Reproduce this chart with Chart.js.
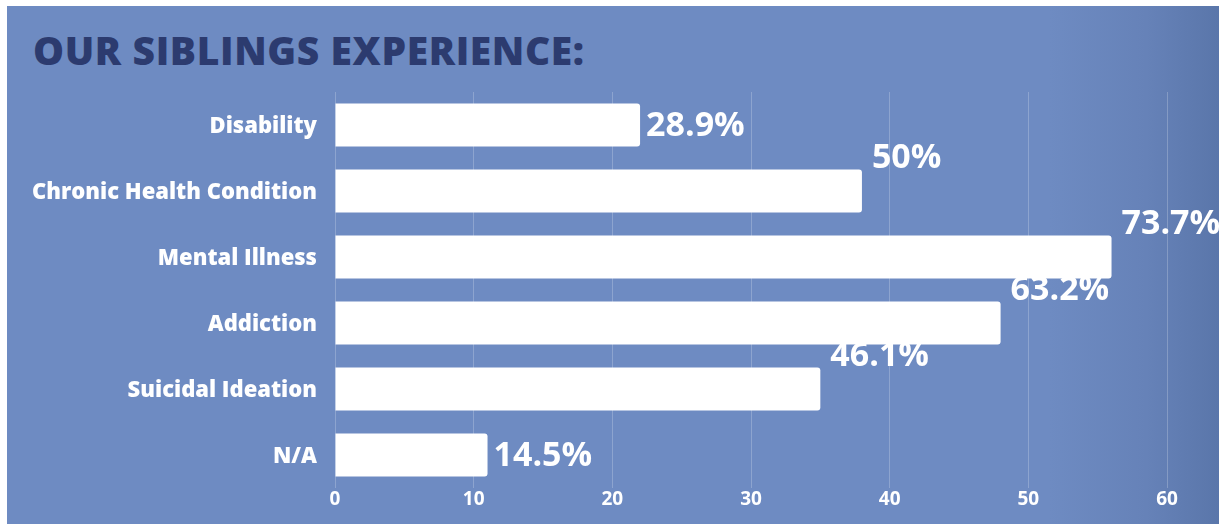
<!DOCTYPE html>
<html>
<head>
<meta charset="utf-8">
<script src="https://cdn.jsdelivr.net/npm/chart.js@4"></script>
<style>
  html, body { margin: 0; padding: 0; background: #ffffff; }
  #panel {
    position: absolute;
    left: 7px;
    top: 6px;
    width: 1212px;
    height: 518px;
    background: linear-gradient(to right, #6e8bc2 0%, #6e8bc2 86%, #6682b8 94%, #5a76aa 100%);
  }
  #title {
    position: absolute;
    left: 33px;
    top: 24px;
    margin: 0;
    font-family: "Open Sans", sans-serif;
    font-weight: 800;
    font-size: 39px;
    letter-spacing: 0.6px;
    line-height: 52px;
    color: #2c3b6f;
    white-space: nowrap;
  }
  #wrap { position: absolute; left: 0; top: 0; width: 1219px; height: 524px; }
</style>
</head>
<body>
<div id="panel"></div>
<h1 id="title">OUR SIBLINGS EXPERIENCE:</h1>
<div id="wrap"><canvas id="chart" width="1219" height="524"></canvas></div>
<script>
const categories = [
  'Disability',
  'Chronic Health Condition',
  'Mental Illness',
  'Addiction',
  'Suicidal Ideation',
  'N/A',
];
const barValues = [22, 38, 56, 48, 35, 11];
const valueLabels = ['28.9%', '50%', '73.7%', '63.2%', '46.1%', '14.5%'];
const xTicks = [0, 10, 20, 30, 40, 50, 60];

const FONT = '"Open Sans", sans-serif';

// labels that sit above their bar instead of beside it
const LIFTED = [false, true, true, true, true, false];

const valueLabelPlugin = {
  id: 'valueLabels',
  afterDatasetsDraw(chart) {
    const { ctx } = chart;
    const meta = chart.getDatasetMeta(0);
    ctx.save();
    ctx.fillStyle = '#ffffff';
    ctx.font = `700 34px ${FONT}`;
    ctx.textAlign = 'left';
    ctx.textBaseline = 'middle';
    meta.data.forEach((bar, i) => {
      const dx = LIFTED[i] ? 10 : 6;
      const dy = LIFTED[i] ? -33 : 1;
      ctx.fillText(valueLabels[i], bar.x + dx, bar.y + dy);
    });
    ctx.restore();
  },
};

new Chart(document.getElementById('chart'), {
  type: 'bar',
  data: {
    labels: categories,
    datasets: [
      {
        data: barValues,
        backgroundColor: '#ffffff',
        borderRadius: 3,
        borderSkipped: 'start',
        barPercentage: 0.65,
        categoryPercentage: 1,
      },
    ],
  },
  options: {
    indexAxis: 'y',
    responsive: false,
    animation: false,
    layout: {
      padding: { top: 92, right: 52, left: 0, bottom: 0 },
    },
    scales: {
      x: {
        min: 0,
        max: 60,
        afterBuildTicks(scale) {
          scale.ticks = xTicks.map((v) => ({ value: v }));
        },
        afterFit(scale) {
          scale.height = 36;
        },
        ticks: {
          color: '#ffffff',
          padding: 0,
          font: { family: FONT, weight: '700', size: 19 },
        },
        grid: {
          color: 'rgba(255,255,255,0.22)',
          lineWidth: 1,
          drawTicks: false,
        },
        border: { display: false },
      },
      y: {
        afterFit(scale) {
          scale.width = 335;
        },
        ticks: {
          color: '#ffffff',
          padding: 10,
          labelOffset: 2,
          font: { family: FONT, weight: '800', size: 22 },
        },
        grid: { display: false },
        border: { display: false },
      },
    },
    plugins: {
      legend: { display: false },
      tooltip: { enabled: false },
    },
  },
  plugins: [valueLabelPlugin],
});
</script>
</body>
</html>
